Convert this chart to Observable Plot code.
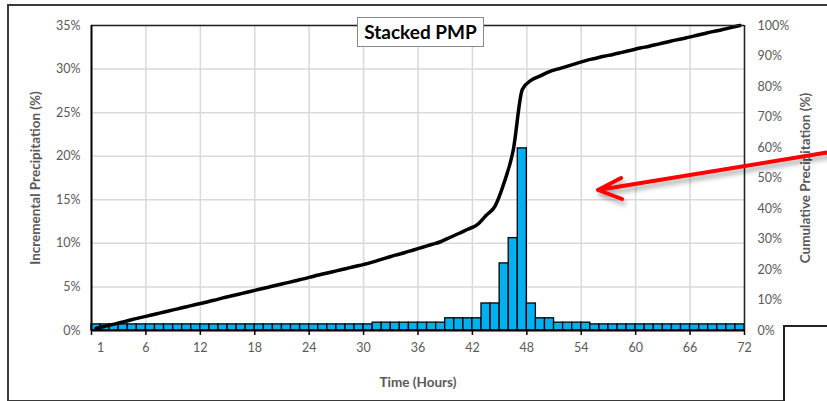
<!DOCTYPE html>
<html>
<head>
<meta charset="utf-8">
<script src="https://cdn.jsdelivr.net/npm/d3@7"></script>
<script src="https://cdn.jsdelivr.net/npm/@observablehq/plot@0.6"></script>
<style>
  html, body { margin: 0; padding: 0; background: #fff; }
  #wrap { position: relative; width: 827px; height: 401px; overflow: hidden; font-family: Lato, "Open Sans", sans-serif; }
  #frame { position: absolute; left: 7px; top: 4px; width: 900px; height: 394px; border: 2px solid #3a3a3a; border-right: none; }
  #corner { position: absolute; left: 783px; top: 325px; width: 80px; height: 100px; background: #fff; border-left: 2px solid #222; border-top: 2px solid #222; }
  #chart { position: absolute; left: 0; top: 0; }
  #title { position: absolute; left: 357px; top: 17px; width: 125px; height: 28px; background: #fff; border: 1px solid #8a8a8a;
           font: bold 19px Lato, sans-serif; color: #000; text-align: center; line-height: 28px; white-space: nowrap; }
  #arrow { position: absolute; left: 0; top: 0; pointer-events: none; }
</style>
</head>
<body>
<div id="wrap">
  <div id="frame"></div>
  <div id="chart"></div>
  <div id="title">Stacked PMP</div>
  <svg id="arrow" width="827" height="401"></svg>
  <div id="corner"></div>
</div>
<script>
// ---- data ----
const hours = [1,2,3,4,5,6,7,8,9,10,11,12,13,14,15,16,17,18,19,20,21,22,23,24,25,26,27,28,29,30,31,32,33,34,35,36,
  37,38,39,40,41,42,43,44,45,46,47,48,49,50,51,52,53,54,55,56,57,58,59,60,61,62,63,64,65,66,67,68,69,70,71,72];
const incremental = [
  0.7,0.7,0.7,0.7,0.7,0.7,0.7,0.7,0.7,0.7,0.7,0.7,0.7,0.7,0.7,0.7,0.7,0.7,0.7,0.7,0.7,0.7,0.7,0.7,0.7,0.7,0.7,0.7,0.7,0.7,0.7,
  0.9,0.9,0.9,0.9,0.9,0.9,0.9,0.9,
  1.4,1.4,1.4,1.4,
  3.1,3.1,7.7,10.6,20.9,3.1,
  1.4,1.4,
  0.9,0.9,0.9,0.9,
  0.7,0.7,0.7,0.7,0.7,0.7,0.7,0.7,0.7,0.7,0.7,0.7,0.7,0.7,0.7,0.7,0.7];
const cumulative = [
  0.7,1.4,2.1,2.8,3.6,4.3,5.0,5.7,6.4,7.1,7.8,8.5,9.2,9.9,10.7,11.4,12.1,12.8,13.5,14.2,14.9,15.6,16.3,17.0,17.8,18.5,19.2,19.9,20.6,21.3,22.0,
  22.9,23.8,24.7,25.5,26.4,27.3,28.2,29.1,
  30.5,31.8,33.2,34.6,
  37.7,40.8,48.5,59.1,79.0,
  82.1,83.5,84.9,85.8,86.7,87.6,88.5,
  89.2,89.9,90.5,91.2,91.9,92.6,93.2,93.9,94.6,95.3,95.9,96.6,97.3,98.0,98.6,99.3,100];
const xTickLabels = [1,6,12,18,24,30,36,42,48,54,60,66,72];
const xGrid = [6,12,18,24,30,36,42,48,54,60,66,72];
const xTickMarks = [0,6,12,18,24,30,36,42,48,54,60,66,72];
const leftTicks = [0,5,10,15,20,25,30,35];
const rightTicks = [0,10,20,30,40,50,60,70,80,90,100];
const leftTitle = "Incremental Precipitation (%)";
const rightTitle = "Cumulative Precipitation (%)";
const xTitle = "Time (Hours)";

// ---- tables ----
const bars = hours.map((h, i) => ({h, v: incremental[i]}));
const line = hours.map((h, i) => ({h, c: cumulative[i]}));
const k = 35 / 100; // right axis (0-100%) mapped onto left axis (0-35%)

const gray = "#595959";
const chart = Plot.plot({
  width: 827,
  height: 401,
  marginLeft: 91,
  marginRight: 83,
  marginTop: 25,
  marginBottom: 71,
  style: {fontFamily: "Lato, 'Open Sans', sans-serif", fontSize: "12px", background: "transparent"},
  x: {type: "linear", domain: [0, 72]},
  y: {domain: [0, 35]},
  marks: [
    Plot.gridY(leftTicks, {stroke: "#d9d9d9", strokeOpacity: 1, strokeWidth: 1.5}),
    Plot.gridX(xGrid, {stroke: "#d9d9d9", strokeOpacity: 1, strokeWidth: 1.5}),
    Plot.rectY(bars, {x1: d => d.h - 1, x2: d => d.h, y: "v", fill: "#00b0f0", stroke: "#000", strokeWidth: 1.3}),
    Plot.line(line, {x: d => d.h - 0.5, y: d => d.c * k, curve: "monotone-x", stroke: "#000", strokeWidth: 3.5}),
    Plot.ruleY([35], {stroke: "#222", strokeWidth: 1.5}),
    Plot.ruleX([72], {stroke: "#222", strokeWidth: 1.5}),
    Plot.ruleY([0], {stroke: "#000", strokeWidth: 2}),
    Plot.ruleX([0], {stroke: "#000", strokeWidth: 2}),
    Plot.axisY(leftTicks, {anchor: "left", tickSize: 0, tickPadding: 11, tickFormat: d => d + "%", label: null, color: gray, fontSize: 12.5}),
    Plot.axisY(rightTicks.map(v => v * k), {anchor: "right", tickSize: 0, tickPadding: 13, tickFormat: d => Math.round(d / k) + "%", label: null, color: gray, fontSize: 12.5}),
    Plot.axisX(xTickMarks, {anchor: "bottom", tickSize: 5, tickFormat: () => "", label: null, stroke: "#000", strokeWidth: 1.5}),
    Plot.axisX(xTickLabels, {anchor: "bottom", tickSize: 0, tickPadding: 13, label: null, color: gray, fontSize: 12.5}),
    Plot.text([leftTitle], {frameAnchor: "left", dx: -56, rotate: -90, textAnchor: "middle", fill: gray, fontWeight: "bold", fontSize: 13.5}),
    Plot.text([rightTitle], {frameAnchor: "right", dx: 61, rotate: -90, textAnchor: "middle", fill: gray, fontWeight: "bold", fontSize: 13.5}),
    Plot.text([xTitle], {frameAnchor: "bottom", dy: 56, fill: gray, fontWeight: "bold", fontSize: 13.5})
  ]
});
document.getElementById("chart").appendChild(chart);

// ---- red annotation arrow (decoration) ----
const svg = d3.select("#arrow");
const defs = svg.append("defs");
const f = defs.append("filter").attr("id", "sh").attr("x", "-20%").attr("y", "-50%").attr("width", "140%").attr("height", "200%");
f.append("feDropShadow").attr("dx", 2).attr("dy", 4).attr("stdDeviation", 2.5).attr("flood-color", "#000").attr("flood-opacity", 0.35);
svg.append("path")
  .attr("d", "M830,152 L598,190 M621,178 L598,190 L622,199")
  .attr("fill", "none").attr("stroke", "#ff0000").attr("stroke-width", 4)
  .attr("stroke-linecap", "round").attr("stroke-linejoin", "round")
  .attr("filter", "url(#sh)");
</script>
</body>
</html>
